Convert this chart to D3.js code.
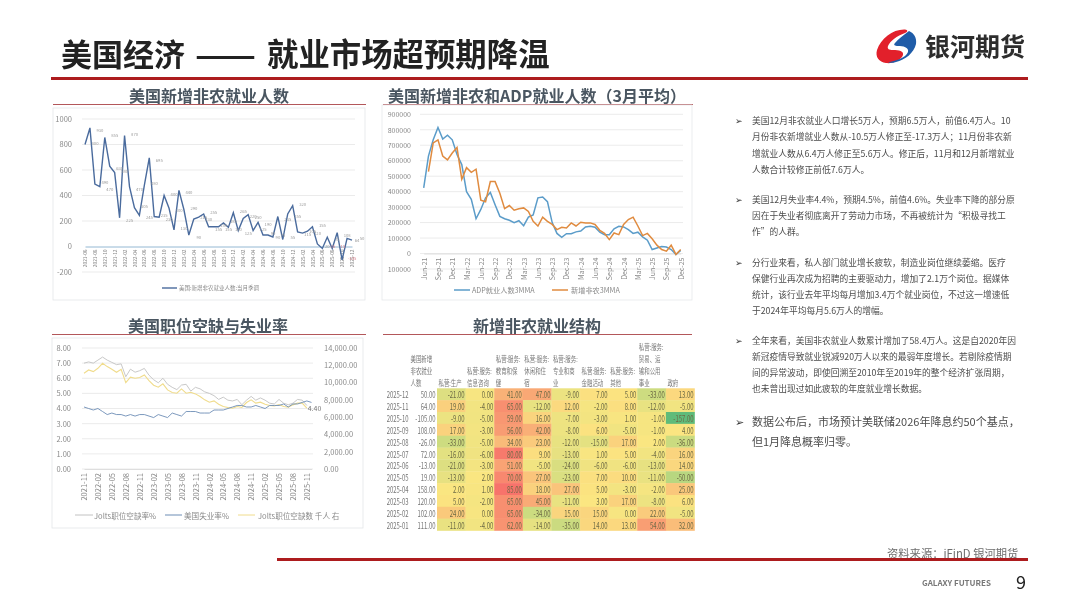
<!DOCTYPE html>
<html><head><meta charset="utf-8">
<script src="https://cdn.jsdelivr.net/npm/d3@7/dist/d3.min.js"></script>
<style>
html,body{margin:0;padding:0;background:#fff;width:1080px;height:608px;overflow:hidden}
svg{display:block}
text{font-family:"Noto Sans CJK SC","Noto Sans",sans-serif}
.soft{filter:blur(0.35px)}
</style></head><body>
<div id="chart"></div>
<script>
// ---------- data ----------
const payrollMonths=["2021-06","2021-07","2021-08","2021-09","2021-10","2021-11","2021-12","2022-01","2022-02","2022-03","2022-04","2022-05","2022-06","2022-07","2022-08","2022-09","2022-10","2022-11","2022-12","2023-01","2023-02","2023-03","2023-04","2023-05","2023-06","2023-07","2023-08","2023-09","2023-10","2023-11","2023-12","2024-01","2024-02","2024-03","2024-04","2024-05","2024-06","2024-07","2024-08","2024-09","2024-10","2024-11","2024-12","2025-01","2025-02","2025-03","2025-04","2025-05","2025-06","2025-07","2025-08","2025-09","2025-10","2025-11","2025-12"];
const payrollValues=[800,930,490,470,855,630,580,225,870,470,305,245,480,695,235,230,400,300,130,440,290,90,215,230,255,155,155,155,185,150,265,125,220,250,125,190,90,90,75,235,55,255,320,115,105,120,155,20,-15,72,-15,108,-105,64,50];
const adpMonthLabels=["Jun-21","Jul-21","Aug-21","Sep-21","Oct-21","Nov-21","Dec-21","Jan-22","Feb-22","Mar-22","Apr-22","May-22","Jun-22","Jul-22","Aug-22","Sep-22","Oct-22","Nov-22","Dec-22","Jan-23","Feb-23","Mar-23","Apr-23","May-23","Jun-23","Jul-23","Aug-23","Sep-23","Oct-23","Nov-23","Dec-23","Jan-24","Feb-24","Mar-24","Apr-24","May-24","Jun-24","Jul-24","Aug-24","Sep-24","Oct-24","Nov-24","Dec-24","Jan-25","Feb-25","Mar-25","Apr-25","May-25","Jun-25","Jul-25","Aug-25","Sep-25","Oct-25","Nov-25","Dec-25"];
const adp3mma=[425000,630000,735000,815000,740000,765000,735000,640000,575000,400000,350000,225000,285000,360000,395000,315000,240000,225000,215000,200000,212000,180000,235000,250000,360000,365000,335000,200000,130000,105000,128000,128000,140000,145000,172000,176000,170000,138000,122000,122000,160000,176000,172000,155000,130000,138000,108000,86000,26000,36000,45000,42000,26000,-6000,20000];
const nfp3mma=[null,530000,715000,735000,630000,605000,650000,685000,480000,555000,525000,545000,345000,335000,465000,465000,390000,290000,310000,280000,290000,295000,272000,208000,178000,235000,208000,188000,155000,170000,165000,198000,178000,202000,198000,198000,188000,150000,130000,90000,133000,122000,188000,220000,235000,178000,116000,130000,95000,54000,26000,15000,54000,-6000,26000];
const joltsMonths=["2021-11","2021-12","2022-01","2022-02","2022-03","2022-04","2022-05","2022-06","2022-07","2022-08","2022-09","2022-10","2022-11","2022-12","2023-01","2023-02","2023-03","2023-04","2023-05","2023-06","2023-07","2023-08","2023-09","2023-10","2023-11","2023-12","2024-01","2024-02","2024-03","2024-04","2024-05","2024-06","2024-07","2024-08","2024-09","2024-10","2024-11","2024-12","2025-01","2025-02","2025-03","2025-04","2025-05","2025-06","2025-07","2025-08","2025-09","2025-10","2025-11","2025-12"];
const joltsRate=[7.0,7.08,7.0,7.2,7.4,7.2,7.05,6.9,6.95,6.1,6.6,6.4,6.5,6.65,6.2,5.9,5.7,6.0,5.6,5.4,5.25,5.55,5.6,5.15,5.4,5.3,5.1,5.0,4.85,4.6,4.75,4.55,4.5,4.6,4.25,4.55,4.8,4.55,4.7,4.55,4.35,4.3,4.6,4.35,4.25,4.35,4.6,4.55,4.2,null];
const unemployment=[4.1,4.0,3.9,4.0,3.8,3.6,3.7,3.6,3.6,3.5,3.6,3.5,3.6,3.6,3.5,3.4,3.6,3.5,3.4,3.7,3.6,3.5,3.8,3.8,3.8,3.7,3.7,3.7,3.9,3.9,3.9,4.0,4.1,4.2,4.2,4.1,4.1,4.2,4.1,4.0,4.2,4.2,4.2,4.3,4.1,4.3,4.3,4.4,4.5,4.4];
const joltsCount=[11080,11460,11270,11650,12230,11850,11540,11190,11540,10000,10620,10500,10580,10880,10230,9690,9460,9850,9150,8850,8770,9270,8770,8880,8690,8380,8000,7730,7880,7500,7230,7120,7040,7230,7120,7690,8000,7620,7730,7500,7350,7300,7460,7230,7150,7420,7620,7620,7040,null];
const tableHeaders=[["美国新增","非农就业","人数"],["私营:生产"],["私营:服务:","信息咨询"],["私营:服务:","教育和保","健"],["私营:服务:","休闲和住","宿"],["私营:服务:","专业和商","业"],["私营:服务:","金融活动"],["私营:服务:","其他"],["私营:服务:","贸易、运","输和公用","事业"],["政府"]];
const tableDates=["2025-12","2025-11","2025-10","2025-09","2025-08","2025-07","2025-06","2025-05","2025-04","2025-03","2025-02","2025-01"];
const tableRows=[
[50,-21,0,41,47,-9,7,5,-33,13],
[64,19,-4,65,-12,12,-2,8,-12,-5],
[-105,-9,-5,59,16,-7,-3,1,-1,-157],
[108,17,-3,56,42,-8,6,-5,-1,4],
[-26,-33,-5,34,23,-12,-15,17,2,-36],
[72,-16,-6,80,9,-13,1,5,-4,16],
[-13,-21,-3,51,-5,-24,-6,-6,-13,14],
[19,-13,2,70,27,-23,7,10,-11,-50],
[158,2,1,85,18,27,5,-3,-2,25],
[120,5,-2,65,45,-11,3,17,-8,6],
[102,24,0,65,-34,15,15,0,22,-5],
[111,-11,-4,62,-14,-35,14,13,54,32]];
const bulletSmall=[
["美国12月非农就业人口增长5万人，预期6.5万人，前值6.4万人。10","月份非农新增就业人数从-10.5万人修正至-17.3万人；11月份非农新","增就业人数从6.4万人修正至5.6万人。修正后，11月和12月新增就业","人数合计较修正前低7.6万人。"],
["美国12月失业率4.4%，预期4.5%，前值4.6%。失业率下降的部分原","因在于失业者彻底离开了劳动力市场，不再被统计为“积极寻找工","作”的人群。"],
["分行业来看，私人部门就业增长疲软，制造业岗位继续萎缩。医疗","保健行业再次成为招聘的主要驱动力，增加了2.1万个岗位。据媒体","统计，该行业去年平均每月增加3.4万个就业岗位，不过这一增速低","于2024年平均每月5.6万人的增幅。"],
["全年来看，美国非农就业人数累计增加了58.4万人。这是自2020年因","新冠疫情导致就业锐减920万人以来的最弱年度增长。若剔除疫情期","间的异常波动，即使回溯至2010年至2019年的整个经济扩张周期，","也未曾出现过如此疲软的年度就业增长数据。"]];
const bulletLarge=["数据公布后，市场预计美联储2026年降息约50个基点，","但1月降息概率归零。"];

// ---------- page ----------
const svg=d3.select("#chart").append("svg").attr("width",1080).attr("height",608);
const DARKRED="#ad1c1e",AXIS="#8a8a8a",GRID="#e6e6e6";
const root=svg.append("g").attr("class","soft");
const money=d3.format(".2f");
const plain=v=>money(v).replace("\u2212","-");
function rect(g,x,y,w,h,fill,stroke){return g.append("rect").attr("x",x).attr("y",y).attr("width",w).attr("height",h).attr("fill",fill).attr("stroke",stroke||"none").attr("stroke-width",stroke?0.8:0);}
function label(g,x,y,t,size,fill,anchor,weight){return g.append("text").attr("x",x).attr("y",y).attr("font-size",size).attr("fill",fill).attr("text-anchor",anchor||"start").attr("font-weight",weight||400).attr("dominant-baseline","central").text(t);}
function squeezed(g,x,y,t,size,fill,anchor,sx){return g.append("text").attr("transform",`translate(${x},${y}) scale(${sx},1)`).attr("font-size",size).attr("fill",fill).attr("text-anchor",anchor||"start").attr("dominant-baseline","central").text(t);}

// header
label(root,61,52,"美国经济",31,"#222","start",700);
label(root,195,52,"——",31,"#222","start",700).attr("textLength",61).attr("lengthAdjust","spacingAndGlyphs");
label(root,267,52,"就业市场超预期降温",31.4,"#222","start",700);
rect(root,51,77,977,3,DARKRED);
root.append("path").attr("fill","#e2202b").attr("d","M905 29.5C893 29 881 38 877 50C875 57 879 62 886 63C893 64 901 60 903 55C904 51 899 50 893 50C889 50 887 49 888 46C890 41 897 36 905 33C908 32 908 30 905 29.5Z");
root.append("path").attr("fill","#1f5ca8").attr("d","M909 31C914 33 917 38 916 44C914 53 905 60 896 62C893 63 890 63 888 62.5C895 61 906 58 908 52C909 47 903 46 898 46C895 46 893 45 895 43C898 39 904 35 909 31Z");
label(root,925,45,"银河期货",25,"#2d2d2d","start",700);

// footer
label(root,887,552.5,"资料来源：iFinD 银河期货",11.3,"#6e6e6e");
rect(root,277,558,751,3,DARKRED);
label(root,922,582,"GALAXY FUTURES",8,"#777","start",700);
label(root,1016,581,"9",18,"#222");

// section titles
function section(cx,cy,text,x0,x1,uy){
  label(root,cx,cy,text,16,"#4a5661","middle",700);
  rect(root,x0,uy,x1-x0,1,"#b3575a");
}
section(209,95,"美国新增非农就业人数",53,366,104);
section(537,95,"美国新增非农和ADP就业人数（3月平均）",383,693,104);
section(208,325,"美国职位空缺与失业率",52,366,334);
section(537,325,"新增非农就业结构",383,692,334);

function styleAxis(g,size,color){
  g.select(".domain").remove();
  g.selectAll("text").attr("fill",color||AXIS).attr("font-size",size);
}
function grid(g,scale,ticks,x0,x1){
  g.append("g").selectAll("line").data(ticks).join("line")
   .attr("x1",x0).attr("x2",x1).attr("y1",d=>scale(d)).attr("y2",d=>scale(d))
   .attr("stroke",GRID).attr("stroke-width",0.8);
}

// ---------- chart 1 ----------
{
  const g=root.append("g");
  rect(g,53,108,312,192,"#fff","#e3e6e8");
  const x=d3.scalePoint().domain(payrollMonths).range([85,352]);
  const y=d3.scaleLinear().domain([-200,1000]).range([272,119]);
  const ticks=d3.range(-200,1001,200);
  grid(g,y,ticks.filter(d=>d!==0),82,355);
  g.append("g").attr("transform","translate(75,0)").call(d3.axisLeft(y).tickValues(ticks).tickSize(0).tickFormat(d=>String(d))).call(a=>styleAxis(a,7.5));
  const ax=g.append("g").attr("transform",`translate(0,${y(0)})`)
    .call(d3.axisBottom(x).tickValues(payrollMonths.filter((d,i)=>i%2===0)).tickSize(0));
  ax.select(".domain").attr("stroke","#7aa6c8").attr("stroke-width",0.8);
  ax.selectAll("text").attr("font-size",4.8).attr("fill",AXIS).attr("text-anchor","end").attr("dy",0)
    .attr("transform","translate(1.6,3) rotate(-90)").attr("y",0).attr("x",0);
  const line=d3.line().x((d,i)=>x(payrollMonths[i])).y(d=>y(d));
  g.append("path").datum(payrollValues).attr("d",line).attr("fill","none").attr("stroke","#4a6b9d").attr("stroke-width",1.4);
  g.append("g").selectAll("text").data(payrollValues).join("text")
    .attr("x",(d,i)=>x(payrollMonths[i])+10).attr("y",(d,i)=>y(d)+(i%2?2:-2)).attr("dominant-baseline","central")
    .attr("text-anchor","middle").attr("font-size",4.2).attr("fill",d=>d<0?"#d9848f":"#9a9a9a").text(d=>d);
  g.append("line").attr("x1",162).attr("x2",177).attr("y1",288).attr("y2",288).attr("stroke","#4a6b9d").attr("stroke-width",1.4);
  label(g,179,288,"美国:新增非农就业人数:当月季调",5.5,AXIS);
}

// ---------- chart 2 ----------
{
  const g=root.append("g");
  rect(g,382,105,310,195,"#fff","#e6e8ea");
  const x=d3.scalePoint().domain(adpMonthLabels).range([423.7,680.7]);
  const y=d3.scaleLinear().domain([-100000,900000]).range([269,114.3]);
  const ticks=d3.range(-100000,900001,100000);
  grid(g,y,ticks,420,683);
  g.append("g").attr("transform","translate(414,0)").call(d3.axisLeft(y).tickValues(ticks).tickSize(0).tickFormat(d=>Math.abs(d))).call(a=>styleAxis(a,7));
  const ax=g.append("g").attr("transform",`translate(0,${y(0)})`)
    .call(d3.axisBottom(x).tickValues(adpMonthLabels.filter((d,i)=>i%3===0)).tickSize(0));
  ax.select(".domain").attr("stroke","#d8d8d8").attr("stroke-width",0.8);
  ax.selectAll("text").attr("font-size",7).attr("fill",AXIS).attr("text-anchor","end").attr("dy",0)
    .attr("y",0).attr("x",0).attr("transform","translate(2.5,4) rotate(-90)");
  const line=d3.line().defined(d=>d!==null).x((d,i)=>x(adpMonthLabels[i])).y(d=>y(d));
  g.append("path").datum(adp3mma).attr("d",line).attr("fill","none").attr("stroke","#5b9cc9").attr("stroke-width",1.5);
  g.append("path").datum(nfp3mma).attr("d",line).attr("fill","none").attr("stroke","#e08b3f").attr("stroke-width",1.5);
  g.append("line").attr("x1",454).attr("x2",470).attr("y1",290).attr("y2",290).attr("stroke","#5b9cc9").attr("stroke-width",1.5);
  label(g,472,290,"ADP就业人数3MMA",7.2,AXIS);
  g.append("line").attr("x1",552).attr("x2",568).attr("y1",290).attr("y2",290).attr("stroke","#e08b3f").attr("stroke-width",1.5);
  label(g,571,290,"新增非农3MMA",7.2,AXIS);
}

// ---------- chart 3 ----------
{
  const g=root.append("g");
  rect(g,52,338,311,190,"#fff","#e3e6e8");
  const x=d3.scalePoint().domain(joltsMonths).range([84,311.5]);
  const y=d3.scaleLinear().domain([0,8]).range([469,348]);
  const yr=d3.scaleLinear().domain([0,14000]).range([469,348]);
  grid(g,y,d3.range(0,9),82,313);
  g.append("g").attr("transform","translate(74,0)").call(d3.axisLeft(y).tickValues(d3.range(0,9)).tickSize(0).tickFormat(d3.format(".2f"))).call(a=>styleAxis(a,7.5));
  g.append("g").attr("transform","translate(321,0)").call(d3.axisRight(yr).tickValues(d3.range(0,14001,2000)).tickSize(0).tickFormat(d3.format(",.2f"))).call(a=>styleAxis(a,7.5));
  const ax=g.append("g").attr("transform","translate(0,469)")
    .call(d3.axisBottom(x).tickValues(joltsMonths.filter((d,i)=>i%3===0)).tickSize(0));
  ax.select(".domain").attr("stroke","#d8d8d8").attr("stroke-width",0.8);
  ax.selectAll("text").attr("font-size",7.5).attr("fill",AXIS).attr("text-anchor","end").attr("dy",0)
    .attr("y",0).attr("x",0).attr("transform","translate(2.7,4) rotate(-90)");
  const line=s=>d3.line().defined(d=>d!==null).x((d,i)=>x(joltsMonths[i])).y(d=>s(d));
  g.append("path").datum(joltsRate).attr("d",line(y)).attr("fill","none").attr("stroke","#c2c2c2").attr("stroke-width",0.9);
  g.append("path").datum(joltsCount).attr("d",line(yr)).attr("fill","none").attr("stroke","#f0dc8c").attr("stroke-width",1.1);
  g.append("path").datum(unemployment).attr("d",line(y)).attr("fill","none").attr("stroke","#6d8db5").attr("stroke-width",0.9);
  label(g,x("2025-12")+3,y(4.4)+6,money(unemployment[unemployment.length-1]),7,"#777","middle");
  const leg=[[75,93,"#c2c2c2","Jolts职位空缺率%",94],[165,182,"#6d8db5","美国失业率%",184],[238,255,"#f0dc8c","Jolts职位空缺数 千人 右",258]];
  leg.forEach(l=>{
    g.append("line").attr("x1",l[0]).attr("x2",l[1]).attr("y1",515).attr("y2",515).attr("stroke",l[2]).attr("stroke-width",1);
    label(g,l[4],515,l[3],7.6,AXIS);
  });
}

// ---------- table ----------
{
  const g=root.append("g");
  const colNames=d3.range(9);
  const colX=d3.scaleBand().domain(colNames).range([437,694.5]);
  const rowY=d3.scaleBand().domain(tableDates).range([388.3,530.5]);
  const allVals=tableRows.flatMap(r=>r.slice(1));
  const color=d3.scaleLinear().domain([d3.min(allVals),-50,3,d3.max(allVals)]).range(["#5fbb7a","#b8d780","#fbe681","#f7736b"]);
  const SX=0.66;
  tableDates.forEach((date,r)=>{
    const cy=rowY(date)+rowY.bandwidth()/2;
    squeezed(g,408.5,cy,date,9,"#777","end",SX);
    squeezed(g,435.5,cy,plain(tableRows[r][0]),9,"#777","end",SX);
    tableRows[r].slice(1).forEach((v,c)=>{
      rect(g,colX(c),rowY(date),colX.bandwidth()+0.3,rowY.bandwidth()+0.3,color(v));
      squeezed(g,colX(c)+colX.bandwidth()-1,cy,plain(v),9,"#6d6a45","end",SX);
    });
  });
  const headX=[410.5].concat(colNames.map(c=>colX(c)+1.5));
  tableHeaders.forEach((lines,c)=>{
    lines.forEach((t,i)=>{
      squeezed(g,headX[c],382-(lines.length-1-i)*12,t,8,"#777","start",0.68);
    });
  });
}

// ---------- notes ----------
{
  const g=root.append("g");
  const tops=[120.7,199,262,340];
  const TXT="#4c4c4c";
  bulletSmall.forEach((lines,b)=>{
    label(g,735,tops[b],"➢",9,"#333");
    lines.forEach((t,i)=>label(g,752,tops[b]+i*16.2,t,8.75,TXT));
  });
  label(g,735,421,"➢",11,"#333");
  bulletLarge.forEach((t,i)=>label(g,752,421+i*20,t,11,TXT));
}
</script></body></html>
